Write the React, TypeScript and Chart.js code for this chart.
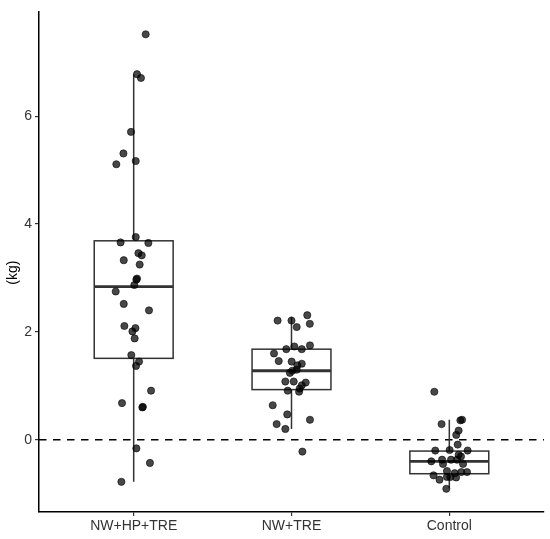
import { useEffect, useRef } from 'react'
import { Chart, registerables } from 'chart.js'

Chart.register(...registerables)

const groups = ['NW+HP+TRE', 'NW+TRE', 'Control']
const yTitle = '(kg)'

// kg change per participant, with the horizontal jitter (category units)
const hpValues = [
  7.52, 6.78, 6.71, 5.71, 5.31, 5.11, 5.17, 3.76, 3.66, 3.65, 3.46, 3.42, 3.33, 3.25, 2.99, 2.97, 2.87,
  2.75, 2.52, 2.4, 2.11, 2.07, 2.01, 1.88, 1.57, 1.45, 1.37, 0.91, 0.68, 0.6, 0.61, -0.16, -0.43, -0.78,
]
const hpJitter = [
  0.076, 0.021, 0.046, -0.017, -0.065, -0.11, 0.013, 0.013, -0.083, 0.093, 0.03, 0.051, -0.063, 0.038,
  0.021, 0.017, 0.004, -0.114, -0.063, 0.097, -0.059, 0.011, -0.008, 0.006, -0.015, 0.034, 0.015, 0.11,
  -0.074, 0.055, 0.058, 0.017, 0.103, -0.078,
]
const treValues = [
  2.21, 2.21, 2.31, 2.15, 2.09, 1.68, 1.73, 1.68, 1.75, 1.6, 1.46, 1.45, 1.41, 1.38, 1.28, 1.24, 1.3,
  1.08, 1.08, 1.06, 1.01, 0.95, 0.91, 0.89, 0.64, 0.47, 0.37, 0.29, 0.2, -0.22,
]
const treJitter = [
  -0.088, 0, 0.1, 0.116, 0.033, -0.033, 0.018, 0.065, 0.117, -0.111, -0.081, 0.001, 0.065, 0.037,
  0.005, -0.01, 0.033, -0.039, 0.014, 0.09, 0.065, 0.052, -0.024, 0.048, -0.119, -0.027, 0.117, -0.094,
  -0.039, 0.069,
]
const controlValues = [
  0.89, 0.29, 0.36, 0.37, 0.17, 0.09, -0.09, -0.2, -0.19, -0.2, -0.28, -0.31, -0.4, -0.37, -0.45, -0.37,
  -0.37, -0.45, -0.58, -0.62, -0.6, -0.6, -0.66, -0.74, -0.69, -0.69, -0.7, -0.91,
]
const controlJitter = [
  -0.095, -0.049, 0.07, 0.081, 0.059, 0.044, 0.053, -0.089, 0.002, 0.116, 0.059, 0.074, -0.114, -0.046,
  -0.04, 0.011, 0.049, 0.087, -0.015, 0.034, 0.076, 0.112, -0.1, -0.062, -0.015, 0.006, 0.043, -0.019,
]

// box summaries per group
const whiskerLow = [-0.78, 0.2, -0.9]
const quartile1 = [1.51, 0.93, -0.63]
const medians = [2.84, 1.28, -0.4]
const quartile3 = [3.69, 1.68, -0.21]
const whiskerHigh = [6.78, 2.28, 0.37]

const yTicks = [0, 2, 4, 6]

const boxPlugin = {
  id: 'boxes',
  beforeDatasetsDraw(chart: any) {
    const { ctx, scales, chartArea } = chart
    const x = scales.x
    const y = scales.y
    ctx.save()
    // reference line at zero
    ctx.strokeStyle = '#000'
    ctx.lineWidth = 1.5
    ctx.setLineDash([7.5, 6.5])
    ctx.beginPath()
    ctx.moveTo(chartArea.left, y.getPixelForValue(0))
    ctx.lineTo(chartArea.right, y.getPixelForValue(0))
    ctx.stroke()
    ctx.setLineDash([])

    groups.forEach((_, i) => {
      const c = x.getPixelForValue(i + 1)
      const l = x.getPixelForValue(i + 1 - 0.25)
      const r = x.getPixelForValue(i + 1 + 0.25)
      const q1 = y.getPixelForValue(quartile1[i])
      const q3 = y.getPixelForValue(quartile3[i])
      ctx.strokeStyle = '#333'
      ctx.lineWidth = 1.5
      ctx.beginPath()
      ctx.moveTo(c, y.getPixelForValue(whiskerHigh[i]))
      ctx.lineTo(c, q3)
      ctx.moveTo(c, q1)
      ctx.lineTo(c, y.getPixelForValue(whiskerLow[i]))
      ctx.stroke()
      ctx.fillStyle = '#fff'
      ctx.fillRect(l, q3, r - l, q1 - q3)
      ctx.strokeRect(l, q3, r - l, q1 - q3)
      ctx.lineWidth = 2.8
      ctx.beginPath()
      ctx.moveTo(l, y.getPixelForValue(medians[i]))
      ctx.lineTo(r, y.getPixelForValue(medians[i]))
      ctx.stroke()
    })
    ctx.restore()
  },
  afterDraw(chart: any) {
    // y axis title, sitting a little below the panel centre as in the reference
    const { ctx, chartArea } = chart
    ctx.save()
    ctx.translate(13, (chartArea.top + chartArea.bottom) / 2 + 11)
    ctx.rotate(-Math.PI / 2)
    ctx.font = '14px "Liberation Sans"'
    ctx.fillStyle = '#000'
    ctx.textAlign = 'center'
    ctx.textBaseline = 'middle'
    ctx.fillText(yTitle, 0, 0)
    ctx.restore()
  },
}

const App = () => {
  const canvasRef = useRef<HTMLCanvasElement | null>(null)
  const chartRef = useRef<Chart | null>(null)

  useEffect(() => {
    document.body.style.margin = '0'
    const ctx = canvasRef.current?.getContext('2d')
    if (!ctx) return
    if (chartRef.current) chartRef.current.destroy()

    const toPoints = (vals: number[], jit: number[], g: number) =>
      vals.map((v, i) => ({ x: g + jit[i], y: v }))

    const pointStyle = {
      backgroundColor: 'rgba(0,0,0,0.72)',
      borderColor: 'rgba(0,0,0,0.72)',
      borderWidth: 0.8,
      pointRadius: 3.6,
    }

    chartRef.current = new Chart(ctx, {
      type: 'scatter',
      data: {
        datasets: [
          { label: groups[0], data: toPoints(hpValues, hpJitter, 1), ...pointStyle },
          { label: groups[1], data: toPoints(treValues, treJitter, 2), ...pointStyle },
          { label: groups[2], data: toPoints(controlValues, controlJitter, 3), ...pointStyle },
        ],
      },
      options: {
        responsive: false,
        animation: false,
        layout: { padding: { top: 6, right: 6, left: 0, bottom: 0 } },
        plugins: { legend: { display: false }, tooltip: { enabled: false } },
        scales: {
          x: {
            type: 'linear',
            min: 0.4,
            max: 3.6,
            afterBuildTicks: (scale: any) => {
              scale.ticks = groups.map((_, i) => ({ value: i + 1 }))
            },
            afterFit: (scale: any) => {
              scale.height = 27
            },
            ticks: {
              callback: (v: any) => groups[Number(v) - 1] ?? '',
              color: '#333',
              padding: 2,
              font: { family: 'Liberation Sans', size: 14 },
              maxRotation: 0,
            },
            grid: { display: true, drawOnChartArea: false, drawTicks: true, tickLength: 4, color: '#333', lineWidth: 1.2 },
            border: { display: true, color: '#000', width: 1.5 },
          },
          y: {
            min: -1.34,
            max: 7.945,
            afterBuildTicks: (scale: any) => {
              scale.ticks = yTicks.map((v) => ({ value: v }))
            },
            afterFit: (scale: any) => {
              scale.width = 39
            },
            ticks: {
              color: '#333',
              padding: 3,
              font: { family: 'Liberation Sans', size: 14 },
            },
            grid: { display: true, drawOnChartArea: false, drawTicks: true, tickLength: 4, color: '#333', lineWidth: 1.2 },
            border: { display: true, color: '#000', width: 1.5 },
          },
        },
      },
      plugins: [boxPlugin],
    })

    return () => {
      if (chartRef.current) {
        chartRef.current.destroy()
        chartRef.current = null
      }
    }
  }, [])

  return (
    <div style={{ width: 550, height: 539 }}>
      <canvas ref={canvasRef} width="550" height="539"></canvas>
    </div>
  )
}

export default App
